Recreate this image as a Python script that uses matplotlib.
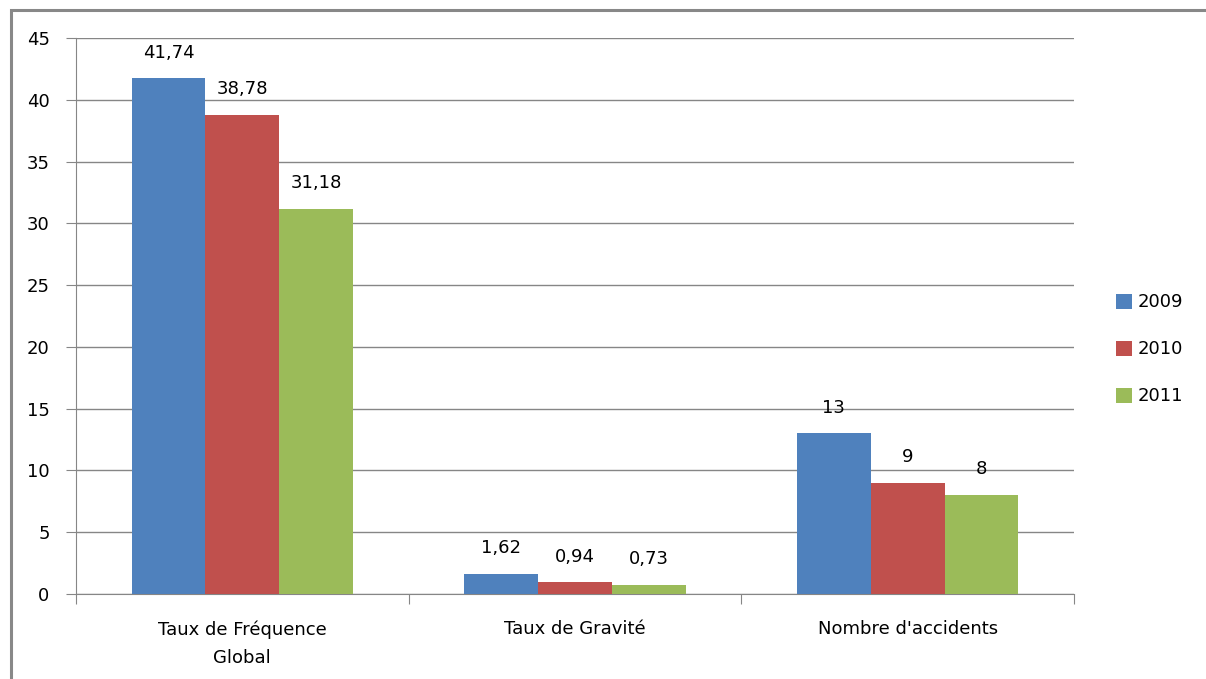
import matplotlib
matplotlib.use("Agg")
import matplotlib.pyplot as plt
import numpy as np
from matplotlib.patches import Rectangle

categories = ["Taux de Fréquence\nGlobal", "Taux de Gravité", "Nombre d'accidents"]
series_names = ["2009", "2010", "2011"]
values_2009 = [41.74, 1.62, 13]
values_2010 = [38.78, 0.94, 9]
values_2011 = [31.18, 0.73, 8]
labels_2009 = ["41,74", "1,62", "13"]
labels_2010 = ["38,78", "0,94", "9"]
labels_2011 = ["31,18", "0,73", "8"]
colors = ["#4F81BD", "#C0504D", "#9BBB59"]
yticks = [0, 5, 10, 15, 20, 25, 30, 35, 40, 45]

plt.rcParams['font.family'] = ['DejaVu Sans']
fig = plt.figure(figsize=(12.06, 6.79), dpi=100)
W, H = 1206, 679
ax = fig.add_axes([76 / W, 1 - 594 / H, (1074 - 76) / W, (594 - 38) / H])

x = np.arange(len(categories))
bw = 0.222
allvals = [values_2009, values_2010, values_2011]
alllabels = [labels_2009, labels_2010, labels_2011]
for i, (vals, labs) in enumerate(zip(allvals, alllabels)):
    pos = x + (i - 1) * bw
    ax.bar(pos, vals, width=bw, color=colors[i], label=series_names[i], zorder=3)
    for p, v, l in zip(pos, vals, labs):
        ax.annotate(l, (p, v), xytext=(0, 12), textcoords="offset points",
                    ha="center", va="bottom", fontsize=13, color="#000000")

ax.set_xlim(-0.5, 2.5)
ax.set_ylim(0, 45)
ax.set_yticks(yticks)
ax.set_yticklabels([str(t) for t in yticks], fontsize=13)
ax.yaxis.grid(True, color="#868686", linewidth=1.0, zorder=0)
ax.set_axisbelow(True)
ax.set_xticks([-0.5, 0.5, 1.5, 2.5])
ax.set_xticklabels([])
ax.set_xticks(x, minor=True)
ax.set_xticklabels(categories, minor=True, fontsize=13, linespacing=1.75)
ax.tick_params(axis="x", which="minor", length=0, pad=19)
ax.tick_params(axis="x", which="major", length=7, color="#868686", direction="out")
ax.tick_params(axis="y", length=7, color="#868686", direction="out", pad=12)
for s in ["top", "right"]:
    ax.spines[s].set_visible(False)
ax.spines["left"].set_color("#868686")
ax.spines["bottom"].set_color("#868686")

leg = ax.legend(loc="center left", bbox_to_anchor=(1.026, 0.44), frameon=False,
                fontsize=13, handlelength=0.9, handleheight=0.9, labelspacing=1.6,
                handletextpad=0.3)

# outer frame
fig.patches.append(Rectangle((10.5 / W, -0.1), 1.2, 1 - 10.5 / H + 0.1,
                             transform=fig.transFigure, fill=False,
                             edgecolor="#888888", linewidth=2.2))

fig.savefig("out.png", dpi=100)
